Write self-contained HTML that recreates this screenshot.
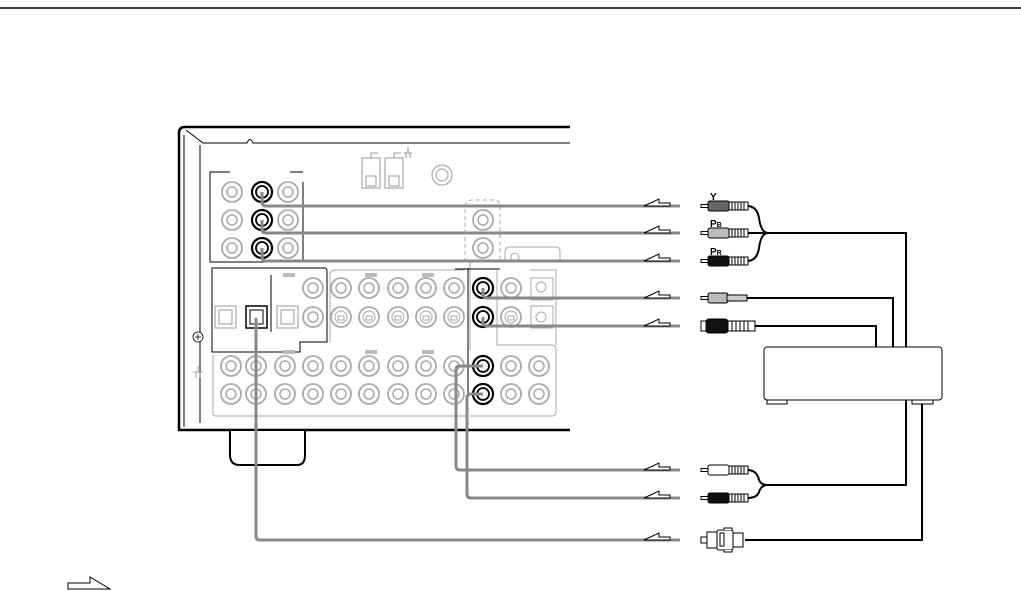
<!DOCTYPE html>
<html><head><meta charset="utf-8"><style>
html,body{margin:0;padding:0;background:#fff;width:1021px;height:591px;overflow:hidden}
svg{display:block}
text{font-family:"Liberation Sans",Arial,sans-serif}
</style></head><body>
<svg width="1021" height="591" viewBox="0 0 1021 591" xmlns="http://www.w3.org/2000/svg">
<defs>
<g id="j"><circle r="10" fill="#fff" stroke="#aaa" stroke-width="1.8"/><circle r="5" fill="none" stroke="#aaa" stroke-width="1.5"/></g>
<g id="jb"><circle r="10" fill="#fff" stroke="#000" stroke-width="2.2"/><circle r="6" fill="none" stroke="#000" stroke-width="1.8"/></g>
<g id="sv"><circle r="10" fill="#fff" stroke="#aaa" stroke-width="1.8"/><circle r="6" fill="none" stroke="#aaa" stroke-width="1"/><rect x="-3" y="-1" width="6" height="4" fill="none" stroke="#aaa"/></g>
<g id="ar"><polygon points="-36,0 -21,-7 -21,-3 -10,-3 -10,0" fill="#fff" stroke="#000" stroke-width="1"/></g>
<g id="rca"><rect x="0" y="-1.5" width="8" height="3" fill="#fff" stroke="#000" stroke-width="1"/><rect x="7" y="-5" width="21" height="10" rx="2" stroke="#000" stroke-width="1"/><rect x="28" y="-4" width="19" height="8" fill="#fff" stroke="#000" stroke-width="1"/><path d="M31,-4v8M34,-4v8M37,-4v8M40,-4v8M43,-4v8" stroke="#000" stroke-width="1"/></g>
</defs>
<line x1="0" y1="8" x2="1021" y2="8" stroke="#000" stroke-width="1.5"/>

<!-- receiver outline -->
<path d="M570,127 H185 Q179,127 179,133 V430 H570" fill="none" stroke="#000" stroke-width="2.5"/>
<path d="M570,143 H253 Q250,136 247,143 H203 L186,130 M184,135 V427" fill="none" stroke="#000" stroke-width="1"/>
<line x1="200" y1="145" x2="200" y2="423" stroke="#000" stroke-width="1"/>
<path d="M230,431 V455 Q230,465 240,465 H297 Q305,465 305,455 V431" fill="#fff" stroke="#000" stroke-width="2"/>
<circle cx="198" cy="337" r="5" fill="#fff" stroke="#000" stroke-width="0.8"/>
<path d="M195,337h6M198,334v6" stroke="#000" stroke-width="0.8"/>
<path d="M193,372h10M196,372v6M200,372v6M198,366v6" stroke="#888" stroke-width="0.8"/>

<!-- top group -->
<path d="M230,172 H210 V262 H303 V182 M290,172 H303" fill="none" stroke="#000" stroke-width="1"/>
<line x1="303" y1="182" x2="303" y2="262" stroke="#000" stroke-dasharray="6,4"/>
<use href="#j" x="232" y="192"/><use href="#jb" x="262" y="192"/><use href="#j" x="288" y="192"/>
<use href="#j" x="232" y="220"/><use href="#jb" x="262" y="220"/><use href="#j" x="288" y="220"/>
<use href="#j" x="232" y="248"/><use href="#jb" x="262" y="248"/><use href="#j" x="288" y="248"/>

<!-- speaker terminals & antenna -->
<g stroke="#aaa" fill="#fff" stroke-width="1.2">
<rect x="362" y="158" width="18" height="30"/><rect x="385" y="158" width="18" height="30"/>
<rect x="366" y="176" width="10" height="10"/><rect x="389" y="176" width="10" height="10"/>
<path d="M371,158 V153 H378 M394,158 V153 H401 M404,153h8M408,153v-6M406,153v5M410,153v5"/>
<circle cx="442" cy="175" r="10"/><circle cx="442" cy="175" r="6"/>
</g>

<!-- right upper box -->
<path d="M465,262 V208 Q465,200 472,200 H495 Q500,200 500,208 V262" fill="none" stroke="#aaa" stroke-dasharray="4,3"/>
<use href="#j" x="483" y="220"/><use href="#j" x="483" y="248"/>
<path d="M505,262 V252 Q505,247 510,247 H556 Q560,247 560,252 V262" fill="none" stroke="#aaa"/>
<circle cx="515" cy="257" r="4" fill="none" stroke="#aaa"/>

<!-- digital panel -->
<path d="M212,268 H325 Q327,268 327,272 V342 H300 V352 H212 Z" fill="none" stroke="#000" stroke-width="1"/>
<line x1="271" y1="275" x2="271" y2="332" stroke="#000"/>
<g fill="#fff" stroke="#aaa" stroke-width="1.2">
<rect x="215" y="306" width="21" height="22"/><rect x="219" y="310" width="13" height="14"/>
<rect x="277" y="306" width="21" height="22"/><rect x="281" y="310" width="13" height="14"/>
</g>
<rect x="246" y="306" width="21" height="22" fill="#fff" stroke="#000" stroke-width="1.5"/>
<rect x="250" y="310" width="13" height="14" fill="#fff" stroke="#000" stroke-width="1"/>
<g fill="#bbb"><rect x="283" y="273" width="12" height="4"/><rect x="365" y="273" width="12" height="4"/><rect x="422" y="273" width="12" height="4"/>
<rect x="283" y="350" width="12" height="4"/><rect x="365" y="350" width="12" height="4"/><rect x="422" y="350" width="12" height="4"/></g>
<path d="M330,342 V275 Q330,270 335,270 H465 M470,350 V262 M497,270 V345 H552 Q556,345 556,350 V412 Q556,416 552,416 H470" fill="none" stroke="#aaa"/>
<path d="M213,355 V414 Q213,416 216,416 H468" fill="none" stroke="#aaa"/>
<path d="M530,270 H556 V345" fill="none" stroke="#aaa"/>
<line x1="468" y1="268" x2="468" y2="420" stroke="#000" stroke-width="1"/>
<line x1="455" y1="269" x2="500" y2="269" stroke="#000" stroke-width="1"/>

<g>
<use href="#j" x="313" y="288"/><use href="#j" x="341" y="288"/><use href="#j" x="369" y="288"/><use href="#j" x="398" y="288"/><use href="#j" x="426" y="288"/><use href="#j" x="454" y="288"/><use href="#jb" x="483" y="288"/><use href="#j" x="511" y="288"/>
<use href="#j" x="313" y="317"/><use href="#sv" x="341" y="317"/><use href="#sv" x="369" y="317"/><use href="#sv" x="398" y="317"/><use href="#sv" x="426" y="317"/><use href="#sv" x="454" y="317"/><use href="#jb" x="483" y="317"/><use href="#sv" x="511" y="317"/>
<rect x="531" y="278" width="22" height="22" fill="none" stroke="#aaa"/><circle cx="541" cy="287" r="5" fill="none" stroke="#aaa"/>
<rect x="531" y="306" width="22" height="22" fill="none" stroke="#aaa"/><circle cx="541" cy="317" r="5" fill="none" stroke="#aaa"/>
</g>
<g>
<use href="#j" x="231" y="366"/><use href="#j" x="256" y="366"/><use href="#j" x="285" y="366"/><use href="#j" x="313" y="366"/><use href="#j" x="341" y="366"/><use href="#j" x="369" y="366"/><use href="#j" x="398" y="366"/><use href="#j" x="426" y="366"/><use href="#j" x="454" y="366"/><use href="#jb" x="483" y="366"/><use href="#j" x="511" y="366"/><use href="#j" x="539" y="366"/>
<use href="#j" x="231" y="394"/><use href="#j" x="256" y="394"/><use href="#j" x="285" y="394"/><use href="#j" x="313" y="394"/><use href="#j" x="341" y="394"/><use href="#j" x="369" y="394"/><use href="#j" x="398" y="394"/><use href="#j" x="426" y="394"/><use href="#j" x="454" y="394"/><use href="#jb" x="483" y="394"/><use href="#j" x="511" y="394"/><use href="#j" x="539" y="394"/>
</g>

<!-- gray cables -->
<g fill="none" stroke="#888" stroke-width="3" stroke-linejoin="round">
<path d="M262,192 V202 Q262,206 266,206 H680"/>
<path d="M262,220 V229 Q262,233 266,233 H680"/>
<path d="M262,248 V257 Q262,261 266,261 H680"/>
<path d="M483,288 V294 Q483,298 487,298 H680"/>
<path d="M483,317 V322 Q483,326 487,326 H680"/>
<path d="M483,366 H460 Q456,366 456,370 V466 Q456,470 460,470 H680"/>
<path d="M483,394 H471 Q467,394 467,398 V494 Q467,498 471,498 H680"/>
<path d="M256,318 V536 Q256,540 260,540 H680"/>
</g>
<use href="#ar" x="680" y="206"/><use href="#ar" x="680" y="233"/><use href="#ar" x="680" y="261"/>
<use href="#ar" x="680" y="298"/><use href="#ar" x="680" y="326"/>
<use href="#ar" x="680" y="470"/><use href="#ar" x="680" y="498"/><use href="#ar" x="680" y="540"/>

<!-- black cables -->
<g fill="none" stroke="#000" stroke-width="2">
<path d="M747,206 Q757,206 759,218 Q761,233 768,233 Q761,233 759,248 Q757,261 747,261 M747,233 H906 V347"/>
<path d="M747,298 H893 V347"/>
<path d="M755,326 H876 V347"/>
<path d="M747,470 Q757,470 759,480 Q761,485 768,485 Q761,485 759,492 Q757,498 747,498 M768,485 H906 V400"/>
<path d="M745,540 H922 V404"/>
</g>

<!-- plugs -->
<use href="#rca" x="701" y="206" fill="#666"/>
<use href="#rca" x="701" y="233" fill="#bbb"/>
<use href="#rca" x="701" y="261" fill="#111"/>
<text x="710" y="200" font-size="10" font-weight="bold">Y</text>
<text x="710" y="227" font-size="10" font-weight="bold">P<tspan font-size="7">B</tspan></text>
<text x="710" y="255" font-size="10" font-weight="bold">P<tspan font-size="7">R</tspan></text>
<g stroke="#000" stroke-width="1">
<rect x="701" y="296.5" width="8" height="3" fill="#fff"/><rect x="708" y="293" width="20" height="10" rx="2" fill="#bbb"/><rect x="727" y="295" width="20" height="6" fill="#ccc"/>
<rect x="701" y="321" width="6" height="10" fill="#fff"/><rect x="706" y="319" width="22" height="14" rx="3" fill="#111"/><rect x="728" y="321" width="27" height="10" fill="#fff"/>
<path d="M732,321v10M736,321v10M740,321v10M744,321v10M748,321v10"/>
</g>
<use href="#rca" x="701" y="470" fill="#fff"/>
<use href="#rca" x="701" y="498" fill="#111"/>
<g stroke="#000" stroke-width="1" fill="#fff">
<rect x="701" y="537" width="6" height="6"/><rect x="707" y="532" width="10" height="16"/><rect x="717" y="530" width="16" height="20" rx="2"/><rect x="733" y="533" width="10" height="14"/><rect x="720" y="533" width="4" height="13"/>
<path d="M724,530v-2h8v2M724,550v2h8v-2"/>
</g>

<!-- component box -->
<rect x="764" y="347" width="178" height="53" rx="3" fill="#fff" stroke="#000" stroke-width="1"/>
<rect x="767" y="400" width="20" height="4" fill="#fff" stroke="#000" stroke-width="1"/>
<rect x="912" y="400" width="21" height="4" fill="#fff" stroke="#000" stroke-width="1"/>
<line x1="906" y1="400" x2="906" y2="404" stroke="#000" stroke-width="2"/>

<!-- legend arrow -->
<polygon points="68,589 110,589 90,577 90,583 68,583" fill="#fff" stroke="#000" stroke-width="1"/>
</svg>
</body></html>
